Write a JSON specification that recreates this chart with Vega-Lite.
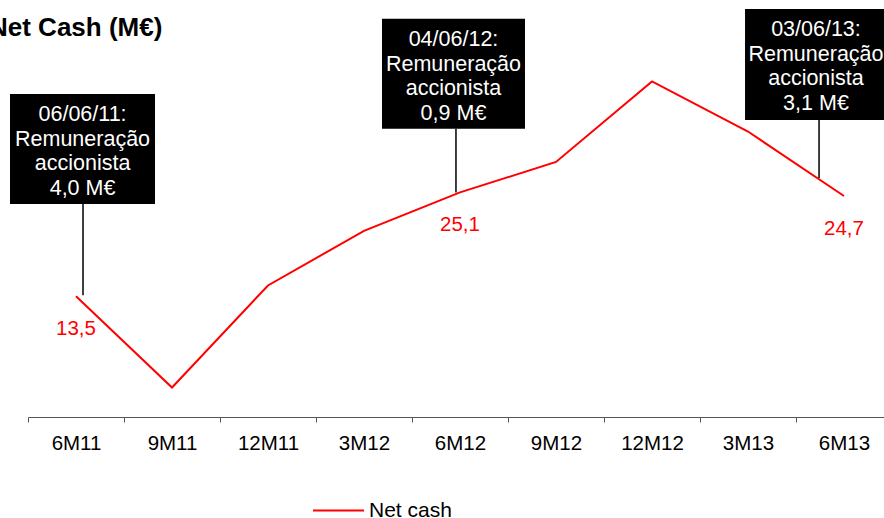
{
  "$schema": "https://vega.github.io/schema/vega-lite/v6.json",
  "width": 864,
  "height": 417,
  "autosize": {"type": "none"},
  "padding": {"left": 28, "top": 0, "right": -8, "bottom": 101},
  "background": "white",
  "title": {
    "text": "Net Cash (M€)",
    "anchor": "start",
    "frame": "group",
    "font": "Liberation Sans",
    "fontSize": 26,
    "fontWeight": "bold",
    "color": "black",
    "baseline": "alphabetic",
    "offset": 0,
    "dx": -39,
    "dy": 62
  },
  "config": {
    "view": {"stroke": null},
    "font": "Liberation Sans",
    "text": {"font": "Liberation Sans"}
  },
  "datasets": {
    "net": [
      {"period": "6M11", "value": 13.5, "label": "13,5", "series": "Net cash"},
      {"period": "9M11", "value": 3.3, "label": "", "series": "Net cash"},
      {"period": "12M11", "value": 14.7, "label": "", "series": "Net cash"},
      {"period": "3M12", "value": 20.8, "label": "", "series": "Net cash"},
      {"period": "6M12", "value": 25.1, "label": "25,1", "series": "Net cash"},
      {"period": "9M12", "value": 28.5, "label": "", "series": "Net cash"},
      {"period": "12M12", "value": 37.5, "label": "", "series": "Net cash"},
      {"period": "3M13", "value": 31.9, "label": "", "series": "Net cash"},
      {"period": "6M13", "value": 24.7, "label": "24,7", "series": "Net cash"}
    ],
    "notes": [
      {"box_left": -0.6875, "box_right": 0.823, "box_top": 36.1, "box_bottom": 23.8, "text_x": 0.068, "text_y": 33.7, "rule_x": 0.073, "rule_end": 13.6, "note": "06/06/11:\nRemuneração\naccionista\n4,0 M€"},
      {"box_left": 3.1875, "box_right": 4.677, "box_top": 44.5, "box_bottom": 32.2, "text_x": 3.932, "text_y": 42.1, "rule_x": 3.958, "rule_end": 25.1, "note": "04/06/12:\nRemuneração\naccionista\n0,9 M€"},
      {"box_left": 6.969, "box_right": 8.479, "box_top": 45.6, "box_bottom": 33.2, "text_x": 7.708, "text_y": 43.2, "rule_x": 7.74, "rule_end": 26.7, "note": "03/06/13:\nRemuneração\naccionista\n3,1 M€"}
    ]
  },
  "layer": [
    {
      "layer": [
        {
          "data": {"name": "net"},
          "mark": {"type": "line", "strokeWidth": 2},
          "encoding": {
            "x": {
              "field": "period",
              "type": "nominal",
              "sort": null,
              "scale": {"paddingInner": 0, "paddingOuter": 0},
              "axis": {
                "title": null,
                "labelAngle": 0,
                "tickBand": "extent",
                "labelFont": "Liberation Sans",
                "labelFontSize": 20.5,
                "labelColor": "black",
                "labelPadding": 11,
                "tickSize": 5,
                "domainColor": "#555",
                "tickColor": "#555",
                "grid": false
              }
            },
            "y": {
              "field": "value",
              "type": "quantitative",
              "scale": {"domain": [0, 46.6], "nice": false, "zero": false},
              "axis": null
            },
            "color": {
              "field": "series",
              "type": "nominal",
              "scale": {"range": ["#FF0000"]},
              "legend": {
                "title": null,
                "orient": "none",
                "legendX": 284,
                "legendY": 484,
                "symbolType": "stroke",
                "symbolSize": 2601,
                "symbolStrokeWidth": 2,
                "labelFont": "Liberation Sans",
                "labelFontSize": 21,
                "labelColor": "black"
              }
            }
          }
        },
        {
          "data": {"name": "net"},
          "transform": [{"filter": "datum.label != ''"}],
          "mark": {"type": "text", "color": "#FF0000", "fontSize": 20.5, "dy": 33, "font": "Liberation Sans"},
          "encoding": {
            "x": {"field": "period", "type": "nominal", "sort": null},
            "y": {"field": "value", "type": "quantitative", "axis": null},
            "text": {"field": "label", "type": "nominal"}
          }
        }
      ]
    },
    {
      "data": {"name": "notes"},
      "mark": {"type": "rule", "color": "black", "strokeWidth": 1.5},
      "encoding": {
        "x": {"field": "rule_x", "type": "quantitative", "scale": {"domain": [-0.5, 8.5], "nice": false, "zero": false}, "axis": null},
        "y": {"field": "box_bottom", "type": "quantitative", "axis": null},
        "y2": {"field": "rule_end"}
      }
    },
    {
      "data": {"name": "notes"},
      "mark": {"type": "rect", "color": "black"},
      "encoding": {
        "x": {"field": "box_left", "type": "quantitative", "scale": {"domain": [-0.5, 8.5], "nice": false, "zero": false}, "axis": null},
        "x2": {"field": "box_right"},
        "y": {"field": "box_top", "type": "quantitative", "axis": null},
        "y2": {"field": "box_bottom"}
      }
    },
    {
      "data": {"name": "notes"},
      "mark": {"type": "text", "color": "white", "fontSize": 21.5, "lineHeight": 24.5, "lineBreak": "\n", "align": "center", "baseline": "middle", "font": "Liberation Sans"},
      "encoding": {
        "x": {"field": "text_x", "type": "quantitative", "scale": {"domain": [-0.5, 8.5], "nice": false, "zero": false}, "axis": null},
        "y": {"field": "text_y", "type": "quantitative", "axis": null},
        "text": {"field": "note", "type": "nominal"}
      }
    }
  ],
  "resolve": {"scale": {"x": "independent"}}
}
